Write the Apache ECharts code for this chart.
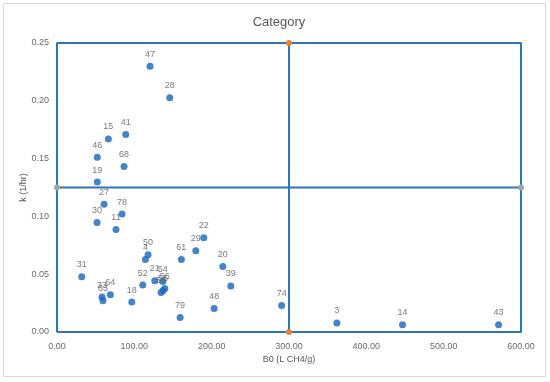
<!DOCTYPE html>
<html><head><meta charset="utf-8">
<script src="https://cdn.jsdelivr.net/npm/echarts@6/dist/echarts.min.js"></script>
<style>html,body{margin:0;padding:0;background:#fff}#c{width:550px;height:382px}</style>
</head><body><div id="c"></div>
<script>
var pointLabels = ['47','28','15','41','46','68','19','27','78','30','11','50','4','61','29','22','20','39','31','52','21','54','53','55','56','33','63','64','18','79','48','74','3','14','43'];
var b0Values = [120.3,145.8,66.4,88.9,52.1,86.7,52.1,60.8,84.1,51.8,76.3,117.8,114.3,160.8,179.5,189.8,214.4,224.8,32.0,110.9,126.4,136.8,134.6,137.2,139.4,58.2,59.5,69.0,96.7,159.2,203.2,290.5,361.9,446.8,571.0];
var kValues = [0.2299,0.2027,0.1670,0.1708,0.1512,0.1431,0.1297,0.1106,0.1020,0.0947,0.0887,0.0668,0.0627,0.0627,0.0703,0.0815,0.0567,0.0398,0.0478,0.0406,0.0443,0.0437,0.0342,0.0359,0.0377,0.0302,0.0270,0.0322,0.0259,0.0126,0.0204,0.0230,0.0078,0.0063,0.0063];
var boxX = [0,0,600,600,0];
var boxY = [0,0.25,0.25,0,0];
var hLineX = [0,600];
var hLineY = [0.125,0.125];
var vLineX = [300,300];
var vLineY = [0,0.25];
var xTicks = {min:0,max:600,interval:100};
var yTicks = {min:0,max:0.25,interval:0.05};

function zip(a,b,c){return a.map(function(v,i){var r=[v,b[i]]; if(c) r.push(c[i]); return r;});}

var chart = echarts.init(document.getElementById('c'), null, {renderer:'canvas'});
var font = 'Liberation Sans, Arial, sans-serif';
chart.setOption({
  animation:false,
  textStyle:{fontFamily:font},
  title:{text:'Category',left:274,top:11,textAlign:'center',textStyle:{fontSize:13,fontWeight:'normal',color:'#595959',fontFamily:font}},
  graphic:[{type:'rect',shape:{x:3.5,y:3.5,width:542,height:373},style:{fill:'none',stroke:'#d9d9d9',lineWidth:1},silent:true}],
  grid:{left:57,right:29,top:43,bottom:50},
  xAxis:{type:'value',min:xTicks.min,max:xTicks.max,interval:xTicks.interval,
    name:'B0 (L CH4/g)',nameLocation:'middle',nameGap:23,nameMoveOverlap:false,nameTextStyle:{fontSize:9,color:'#595959'},
    axisLine:{show:true,lineStyle:{color:'#d9d9d9'}},axisTick:{show:false},splitLine:{show:false},
    axisLabel:{fontSize:9,color:'#6a6a6a',margin:10,formatter:function(v){return v.toFixed(2);}}},
  yAxis:{type:'value',min:yTicks.min,max:yTicks.max,interval:yTicks.interval,
    name:'k (1/hr)',nameLocation:'middle',nameGap:29,nameMoveOverlap:false,nameTextStyle:{fontSize:9,color:'#595959'},
    axisLine:{show:false},axisTick:{show:false},splitLine:{show:false},
    axisLabel:{fontSize:9,color:'#6a6a6a',margin:8,formatter:function(v){return v.toFixed(2);}}},
  series:[
    {type:'line',data:zip(boxX,boxY),showSymbol:false,symbol:'none',lineStyle:{color:'#2e75b6',width:2},z:2},
    {type:'line',data:zip(hLineX,hLineY),symbol:'circle',symbolSize:6,itemStyle:{color:'#a5a5a5'},lineStyle:{color:'#2e75b6',width:2},z:3},
    {type:'line',data:zip(vLineX,vLineY),symbol:'circle',symbolSize:6,itemStyle:{color:'#ed7d31'},lineStyle:{color:'#2e75b6',width:2},z:3},
    {type:'scatter',data:zip(b0Values,kValues,pointLabels),symbol:'circle',symbolSize:7,
      itemStyle:{color:'#1565c0'},z:5,
      label:{show:true,position:'top',distance:4,fontSize:9,color:'#595959',formatter:function(p){return p.data[2];}}}
  ]
});
</script></body></html>
